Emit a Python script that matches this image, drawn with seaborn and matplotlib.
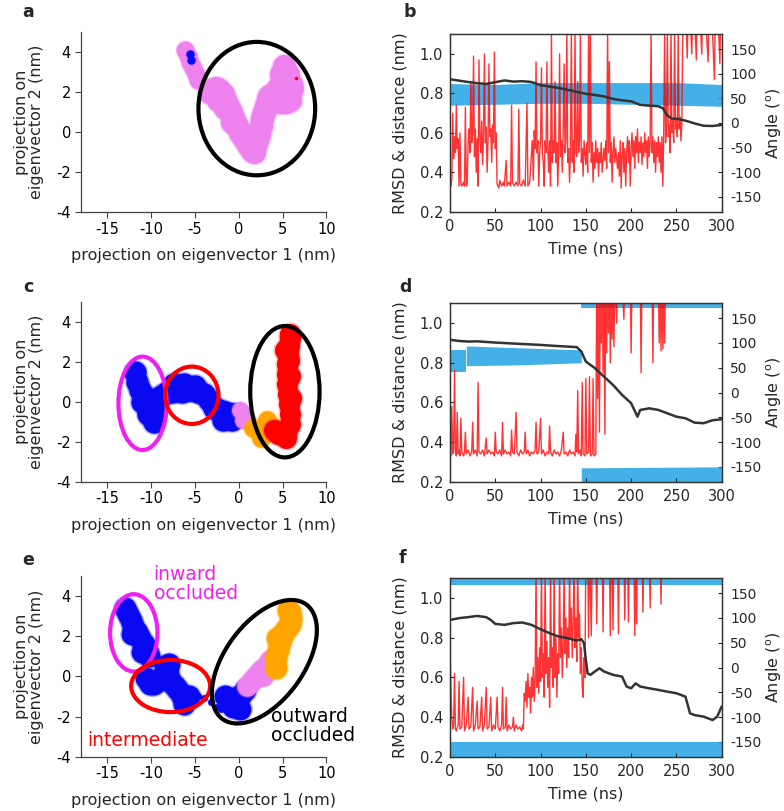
import matplotlib
matplotlib.use("Agg")
import numpy as np
import pandas as pd
import matplotlib.pyplot as plt
import seaborn as sns
from matplotlib.patches import Ellipse
from matplotlib.transforms import Affine2D

# ---------------- PCA projection clouds (anchor points) ----------------
# panel a
a_small_x = [-6.1, -5.8, -5.5, -5.2, -4.9, -4.6]
a_small_y = [4.1, 3.8, 3.5, 3.2, 2.9, 2.6]
a_violet_x = [-3.4, -3.0, -2.6, -2.2, -1.8, -1.5, -1.2, -0.9, -0.6, -0.3, 0.0, 0.3, 0.6, 0.9, 1.2, 1.5,
              1.8, 1.9, 2.1, 2.3, 2.5, 2.7, 2.9, 3.1, 3.3, 3.5, 3.8, 4.3, 4.6, 5.0, 5.4, 5.9, 6.1, 4.5,
              4.9, 5.3, 5.7, 6.0, 4.8, 5.2, 5.6, 5.2, -2.4, -1.6, -0.8]
a_violet_y = [2.0, 2.1, 2.2, 2.1, 1.9, 1.6, 1.3, 1.0, 0.7, 0.4, 0.1, -0.1, -0.3, -0.5, -0.7, -0.9,
              -1.0, -0.7, -0.4, -0.1, 0.3, 0.7, 1.0, 1.3, 1.6, 1.8, 1.8, 1.6, 1.5, 1.5, 1.5, 1.6, 2.2, 2.2,
              2.3, 2.3, 2.3, 2.4, 2.9, 2.9, 2.9, 3.3, 1.6, 1.2, 0.5]
a_blue_x = [-5.6, -5.4]
a_blue_y = [3.9, 3.6]
a_red_x = [6.5]
a_red_y = [2.7]

# panel c
c_blue_x = [-11.8, -11.6, -11.2, -10.8, -10.3, -9.8, -9.5, -9.7, -10.3, -11.0,
            -8.8, -8.2, -7.6, -7.0, -6.4, -5.8, -5.2, -4.6, -4.0, -3.4,
            -7.4, -6.2, -5.0, -2.8, -2.2, -1.6, -1.0, -0.4, -1.8, -0.8]
c_blue_y = [1.5, 1.0, 0.6, 0.3, 0.1, -0.2, -0.6, -1.0, -0.6, 0.0,
            0.3, 0.5, 0.5, 0.6, 0.5, 0.6, 0.6, 0.5, 0.4, 0.1,
            0.9, 0.9, 0.8, -0.3, -0.4, -0.5, -0.6, -0.6, -0.9, -0.9]
c_violet_x = [0.2, 0.6, 0.9, 0.5]
c_violet_y = [-0.4, -0.6, -0.9, -0.9]
c_orange_x = [1.6, 2.2, 2.8, 3.3, 3.8, 3.2, 2.6]
c_orange_y = [-1.3, -1.4, -1.4, -1.5, -1.2, -0.9, -1.8]
c_red_x = [4.0, 4.5, 5.0, 5.5, 5.8, 5.8, 5.7, 5.6, 5.5, 5.5, 5.5, 5.6, 5.7, 5.8, 5.8, 5.7, 5.4, 6.0,
           5.3, 5.9]
c_red_y = [-1.4, -1.6, -1.5, -1.4, -1.1, -0.6, -0.1, 0.4, 0.9, 1.4, 1.9, 2.4, 2.8, 3.2, 3.4, 2.1, -1.8, 0.2,
           2.6, 1.3]

# panel e
e_blue_x = [-12.9, -12.6, -12.3, -12.0, -11.6, -11.2, -10.8, -10.4, -10.2, -12.2, -11.0,
            -10.6, -10.1, -9.6, -9.2, -8.4, -8.0, -7.7, -7.3, -6.9, -6.5, -6.1, -5.7, -7.9, -6.2,
            -1.6, -1.0, -0.4, 0.2, 0.7, 0.1, -0.6]
e_blue_y = [3.4, 3.1, 2.8, 2.5, 2.2, 1.9, 1.6, 1.3, 1.0, 2.1, 1.2,
            -0.1, -0.4, -0.4, -0.2, 0.5, 0.1, -0.3, -0.5, -0.7, -1.0, -1.2, -1.0, 0.6, -1.4,
            -1.0, -1.2, -1.1, -1.0, -0.7, -1.6, -1.5]
e_trail_x = [-4.6, -3.9, -3.2, -2.5, -2.0]
e_trail_y = [-1.0, -1.1, -1.3, -1.5, -1.6]
e_violet_x = [1.0, 1.4, 1.8, 2.2, 2.6, 3.0, 3.3, 3.6, 2.8]
e_violet_y = [-0.5, -0.3, -0.1, 0.1, 0.3, 0.4, 0.6, 0.8, 0.0]
e_orange_x = [4.2, 4.3, 4.5, 4.7, 4.9, 5.2, 5.5, 5.8, 6.0, 5.9, 5.6, 4.4]
e_orange_y = [0.4, 0.9, 1.3, 1.7, 2.0, 2.2, 2.4, 2.6, 2.9, 3.2, 3.3, 1.9]

# state ellipses: (x, y, width, height)
a_ell_black = (2.07, 1.17, 13.3, 6.67)
c_ell_magenta = (-10.95, -0.08, 5.5, 4.67)
c_ell_red = (-5.34, 0.32, 6.08, 2.87)
c_ell_black = (5.27, 0.5, 7.9, 6.57)
e_ell_magenta = (-11.95, 2.17, 5.4, 3.85)
e_ell_red = (-7.75, -0.48, 9.0, 2.6)
e_ell_black_tilted = (2.93, 0.73, 16.17, 8.94, 53.8)  # width/height in x-units, screen angle

# ---------------- time series ----------------
b_black_t = [0, 10, 20, 30, 40, 50, 60, 70, 80, 90, 100, 110, 120, 130, 140, 150, 160, 170, 180, 190, 200,
             210, 220, 230, 235, 240, 245, 250, 260, 270, 280, 290, 300]
b_black_v = [0.872, 0.865, 0.858, 0.852, 0.848, 0.857, 0.866, 0.860, 0.862, 0.858, 0.842, 0.835, 0.828,
             0.818, 0.808, 0.798, 0.792, 0.785, 0.772, 0.765, 0.760, 0.742, 0.738, 0.735, 0.725, 0.688,
             0.672, 0.672, 0.662, 0.648, 0.636, 0.635, 0.640]

d_black_t = [0, 10, 20, 30, 50, 70, 100, 120, 140, 145, 150, 160, 170, 180, 190, 200, 207, 210, 220, 230,
             240, 250, 260, 270, 280, 290, 300]
d_black_v = [0.916, 0.910, 0.907, 0.908, 0.902, 0.897, 0.890, 0.884, 0.879, 0.857, 0.806, 0.773, 0.730,
             0.688, 0.638, 0.596, 0.528, 0.562, 0.570, 0.562, 0.545, 0.528, 0.520, 0.498, 0.495, 0.510, 0.515]

f_black_t = [0, 10, 20, 30, 40, 45, 50, 60, 70, 80, 90, 100, 110, 120, 130, 140, 145, 148, 150, 152, 155,
             160, 165, 170, 180, 190, 195, 200, 205, 210, 220, 230, 240, 250, 260, 265, 270, 280, 290, 295, 300]
f_black_v = [0.890, 0.899, 0.904, 0.910, 0.904, 0.890, 0.870, 0.865, 0.874, 0.877, 0.865, 0.843, 0.823,
             0.806, 0.798, 0.786, 0.793, 0.773, 0.688, 0.620, 0.613, 0.630, 0.646, 0.630, 0.613, 0.604,
             0.554, 0.545, 0.570, 0.554, 0.545, 0.537, 0.528, 0.520, 0.503, 0.419, 0.410, 0.402, 0.385,
             0.402, 0.453]

b_red = [(0, 0.34), (1, 0.33), (2, 0.36), (3, 0.70), (4, 0.47), (5, 0.58), (6, 0.50), (7, 0.74), (8, 0.52),
         (9, 0.57), (10, 0.33), (11, 0.60), (12, 0.34), (13, 0.33), (15, 0.35), (16, 0.33), (17, 0.73),
         (18, 0.33), (19, 0.34), (20, 0.56), (21, 0.62), (22, 0.50), (23, 0.86), (24, 0.55), (25, 0.61),
         (26, 0.99), (27, 0.48), (28, 0.62), (29, 0.40), (30, 0.57), (31, 0.33), (32, 0.97), (33, 0.58),
         (34, 0.50), (35, 0.66), (36, 0.44), (37, 0.60), (38, 1.00), (39, 0.55), (40, 0.63), (41, 0.40),
         (42, 0.57), (43, 0.95), (44, 0.58), (45, 0.62), (46, 0.45), (47, 0.64), (48, 0.55), (49, 1.01),
         (50, 0.52), (51, 0.60), (52, 0.34), (54, 0.32), (55, 0.36), (57, 0.33), (59, 0.35), (60, 0.33),
         (62, 0.46), (63, 0.33), (65, 0.35), (67, 0.33), (68, 0.74), (69, 0.35), (71, 0.33), (73, 0.35),
         (75, 0.33), (76, 0.72), (77, 0.34), (79, 0.33), (81, 0.36), (83, 0.33), (85, 0.75), (86, 0.33),
         (88, 0.35), (90, 0.50), (91, 0.56), (92, 0.36), (93, 0.61), (94, 0.52), (95, 0.96), (96, 0.50),
         (97, 0.56), (98, 0.33), (99, 0.49), (100, 0.56), (101, 0.93), (102, 0.50), (103, 0.45), (104, 0.33),
         (105, 0.56), (106, 0.50), (107, 0.96), (108, 0.52), (109, 0.40), (110, 0.56), (111, 0.33),
         (112, 1.12), (113, 0.45), (114, 0.56), (115, 0.50), (116, 0.86), (117, 0.45), (118, 0.55),
         (119, 0.33), (120, 0.50), (121, 1.00), (122, 0.48), (123, 0.56), (124, 0.40), (125, 0.61),
         (126, 0.95), (127, 0.50), (128, 0.56), (129, 1.12), (130, 0.45), (131, 0.52), (132, 0.35),
         (133, 0.50), (134, 1.12), (135, 0.45), (136, 0.56), (137, 0.40), (138, 1.12), (139, 0.50),
         (140, 0.48), (141, 0.86), (142, 0.50), (143, 0.56), (144, 1.12), (145, 0.45), (146, 0.52),
         (147, 0.38), (148, 0.56), (149, 0.50), (150, 0.44), (151, 0.55), (152, 0.40), (153, 1.12),
         (154, 0.50), (155, 1.12), (156, 0.45), (157, 0.55), (158, 0.35), (159, 0.50), (160, 0.42),
         (161, 0.56), (162, 0.45), (163, 0.52), (164, 0.38), (165, 0.50), (166, 0.45), (167, 0.55),
         (168, 0.40), (170, 0.52), (171, 0.46), (172, 0.56), (173, 0.42), (174, 1.12), (175, 0.50),
         (176, 0.96), (177, 0.45), (178, 0.55), (179, 0.35), (180, 0.50), (181, 0.58), (182, 0.45),
         (183, 0.52), (185, 0.42), (186, 0.50), (187, 0.38), (188, 0.56), (189, 0.32), (190, 0.48),
         (191, 0.55), (192, 0.40), (193, 0.52), (194, 0.33), (195, 0.50), (196, 0.58), (197, 0.45),
         (198, 0.56), (199, 0.33), (200, 0.52), (201, 0.60), (202, 0.48), (203, 0.56), (204, 0.42),
         (205, 0.58), (206, 0.50), (207, 0.62), (208, 0.45), (209, 0.55), (210, 0.50), (211, 0.58),
         (212, 0.44), (213, 0.55), (214, 0.48), (215, 0.60), (216, 0.50), (217, 0.56), (218, 0.42),
         (219, 0.58), (220, 0.48), (221, 0.55), (222, 1.12), (223, 0.50), (224, 0.58), (225, 0.45),
         (226, 0.56), (227, 0.40), (228, 0.55), (229, 0.48), (230, 0.58), (231, 0.45), (232, 0.55),
         (233, 0.40), (234, 0.58), (235, 0.33), (236, 0.60), (237, 1.12), (238, 0.55), (239, 0.62),
         (240, 1.12), (241, 0.58), (242, 0.64), (243, 0.50), (244, 1.12), (245, 0.60), (246, 0.66),
         (247, 0.55), (248, 1.12), (249, 0.62), (250, 0.66), (251, 0.58), (252, 1.12), (253, 0.62),
         (254, 0.68), (255, 0.56), (256, 0.65), (257, 1.12), (258, 1.20), (260, 1.25), (262, 0.98),
         (263, 1.25), (265, 1.20), (267, 1.00), (268, 1.25), (270, 1.20), (272, 0.97), (273, 1.25),
         (276, 1.20), (278, 1.00), (279, 1.25), (282, 1.20), (285, 0.96), (286, 1.25), (289, 1.20),
         (292, 0.87), (293, 1.25), (296, 1.20), (298, 0.95), (299, 1.25), (300, 1.20)]

d_red = [(0, 0.34), (1, 0.33), (2, 0.58), (3, 0.34), (4, 0.36), (5, 0.76), (6, 0.35), (7, 0.33), (8, 0.55),
         (9, 0.34), (10, 0.36), (11, 0.33), (12, 0.52), (13, 0.35), (15, 0.33), (16, 0.35), (17, 0.45),
         (18, 0.34), (20, 0.36), (22, 0.33), (24, 0.35), (25, 0.50), (26, 0.34), (28, 0.36), (30, 0.33),
         (31, 0.70), (32, 0.35), (34, 0.34), (36, 0.36), (38, 0.33), (40, 0.42), (41, 0.34), (43, 0.36),
         (45, 0.34), (47, 0.35), (49, 0.33), (50, 0.45), (51, 0.35), (53, 0.34), (55, 0.36), (57, 0.33),
         (58, 0.50), (59, 0.34), (61, 0.36), (63, 0.34), (65, 0.35), (67, 0.33), (68, 0.46), (69, 0.35),
         (71, 0.34), (73, 0.55), (74, 0.35), (76, 0.33), (78, 0.36), (80, 0.34), (82, 0.35), (83, 0.45),
         (84, 0.34), (86, 0.36), (88, 0.33), (90, 0.35), (92, 0.34), (94, 0.36), (95, 0.50), (96, 0.34),
         (98, 0.35), (100, 0.52), (101, 0.34), (103, 0.36), (105, 0.33), (107, 0.35), (109, 0.34),
         (110, 0.48), (111, 0.35), (113, 0.33), (115, 0.36), (117, 0.34), (119, 0.35), (121, 0.33),
         (123, 0.36), (125, 0.45), (126, 0.34), (128, 0.35), (130, 0.33), (132, 0.36), (134, 0.34),
         (136, 0.35), (138, 0.33), (139, 0.44), (140, 0.35), (141, 0.66), (142, 0.34), (144, 0.36),
         (145, 0.33), (146, 0.70), (147, 0.34), (149, 0.33), (150, 0.72), (151, 0.34), (153, 0.35),
         (154, 0.73), (155, 0.33), (157, 0.34), (158, 0.72), (159, 0.33), (161, 0.34), (162, 1.25),
         (163, 0.62), (164, 1.25), (165, 0.45), (166, 1.25), (167, 0.90), (168, 1.25), (169, 0.75),
         (170, 1.25), (171, 0.44), (172, 1.25), (173, 0.85), (174, 1.25), (175, 0.95), (176, 1.25),
         (177, 0.80), (178, 1.25), (179, 0.92), (180, 1.25), (181, 0.88), (182, 1.25), (184, 1.00),
         (185, 1.25), (190, 1.25), (192, 1.02), (193, 1.25), (199, 1.25), (200, 0.85), (201, 1.25),
         (210, 1.25), (211, 0.75), (212, 1.25), (223, 1.25), (224, 0.80), (225, 1.25), (230, 1.25),
         (231, 0.90), (232, 1.25), (233, 0.86), (234, 1.25), (235, 0.87), (236, 1.25), (237, 0.90),
         (238, 1.25), (300, 1.25)]

f_red = [(0, 0.77), (1, 0.55), (2, 0.40), (3, 0.34), (4, 0.36), (5, 0.62), (6, 0.34), (7, 0.33), (9, 0.36),
         (10, 0.58), (11, 0.34), (13, 0.35), (15, 0.60), (16, 0.33), (18, 0.36), (20, 0.50), (21, 0.34),
         (23, 0.35), (25, 0.55), (26, 0.33), (28, 0.36), (30, 0.48), (31, 0.34), (33, 0.35), (35, 0.50),
         (36, 0.33), (38, 0.36), (40, 0.55), (41, 0.34), (43, 0.35), (45, 0.50), (46, 0.33), (48, 0.36),
         (50, 0.34), (52, 0.50), (53, 0.35), (55, 0.33), (57, 0.36), (58, 0.55), (59, 0.34), (61, 0.35),
         (62, 0.50), (63, 0.33), (65, 0.36), (67, 0.34), (69, 0.35), (70, 0.40), (71, 0.33), (73, 0.36),
         (75, 0.34), (77, 0.35), (79, 0.33), (80, 0.36), (81, 0.34), (82, 0.52), (83, 0.48), (84, 0.58),
         (85, 0.45), (86, 0.62), (87, 0.50), (88, 0.55), (89, 0.42), (90, 0.60), (91, 0.50), (92, 0.65),
         (93, 0.48), (94, 0.58), (95, 1.15), (96, 0.55), (97, 0.70), (98, 0.52), (99, 0.75), (100, 0.58),
         (101, 1.15), (102, 0.60), (103, 0.72), (104, 0.50), (105, 1.15), (106, 0.62), (107, 0.78),
         (108, 0.55), (109, 0.70), (110, 0.45), (111, 1.15), (112, 0.65), (113, 0.75), (114, 0.55),
         (115, 1.15), (116, 0.60), (117, 0.80), (118, 0.50), (119, 0.72), (120, 0.62), (121, 1.15),
         (122, 0.70), (123, 0.85), (124, 0.60), (125, 0.78), (126, 1.15), (127, 0.72), (128, 0.90),
         (129, 0.65), (130, 0.85), (131, 0.70), (132, 1.15), (133, 0.80), (134, 0.95), (135, 0.70),
         (136, 0.88), (137, 1.15), (138, 0.75), (139, 0.90), (140, 0.68), (141, 1.15), (142, 0.80),
         (143, 0.92), (144, 0.62), (145, 0.75), (146, 0.55), (147, 0.50), (148, 0.70), (149, 0.60),
         (150, 1.25), (152, 1.25), (153, 0.80), (154, 1.25), (156, 0.81), (157, 1.25), (161, 1.25),
         (162, 0.87), (163, 1.25), (168, 1.25), (169, 0.83), (170, 1.25), (176, 1.25), (177, 0.81),
         (178, 1.25), (179, 1.25), (180, 0.84), (181, 1.25), (185, 1.25), (186, 0.82), (187, 1.25),
         (192, 1.25), (193, 0.89), (194, 1.25), (196, 1.25), (197, 0.88), (198, 1.25), (203, 1.25),
         (204, 0.81), (205, 1.25), (206, 0.87), (207, 1.25), (212, 1.25), (213, 0.93), (214, 1.25),
         (220, 1.25), (221, 0.95), (222, 1.25), (232, 1.25), (233, 0.97), (234, 1.25), (300, 1.25)]

# angle bands (degrees): time, low, high
b_angle_t = [0, 50, 100, 150, 200, 250, 300]
b_angle_lo = [36, 38, 40, 40, 38, 36, 34]
b_angle_hi = [80, 78, 82, 82, 82, 82, 78]

d_angle1_t = [0, 18]
d_angle1_lo = [42, 42]
d_angle1_hi = [86, 86]
d_angle2_t = [18, 80, 145]
d_angle2_lo = [54, 56, 60]
d_angle2_hi = [94, 90, 86]
d_angle3_t = [145, 300]
d_angle3_lo = [-180, -180]
d_angle3_hi = [-152, -150]
d_angle4_t = [145, 300]
d_angle4_lo = [170, 170]
d_angle4_hi = [180, 180]

f_angle1_t = [0, 300]
f_angle1_lo = [-180, -180]
f_angle1_hi = [-150, -150]
f_angle2_t = [0, 300]
f_angle2_lo = [167, 167]
f_angle2_hi = [180, 180]

# ---------------- styling ----------------
sns.set_theme(style="ticks")
plt.rcParams["font.family"] = ["DejaVu Sans"]
plt.rcParams["axes.unicode_minus"] = False

BLUE = "#0a0af0"
VIOLET = "#ee82ee"
ORANGE = "#ffa500"
RED = "#ff0000"
MAGENTA = "#f020f0"
CYAN = "#22a2e4"
DARK = "#333333"

fig = plt.figure(figsize=(7.84, 8.11), dpi=100)
W, H = 784, 811


def cloud(ax, xs, ys, color, s):
    sns.scatterplot(x=xs, y=ys, s=s * 1.3, color=color, alpha=0.25, linewidth=0, ax=ax, legend=False)
    sns.scatterplot(x=xs, y=ys, s=s, color=color, linewidth=0, ax=ax, legend=False)


def ellipse(ax, params, color):
    x, y, w, h = params
    ax.add_patch(Ellipse((x, y), w, h, fill=False, edgecolor=color, lw=3, zorder=5))


def pca_axes(rect):
    ax = fig.add_axes(rect)
    ax.set_xlim(-18, 10)
    ax.set_ylim(-4, 5)
    ax.set_xticks([-15, -10, -5, 0, 5, 10])
    ax.set_yticks([-4, -2, 0, 2, 4])
    sns.despine(ax=ax)
    for s in ["left", "bottom"]:
        ax.spines[s].set_color("#444444")
        ax.spines[s].set_linewidth(0.9)
    ax.tick_params(direction="out", length=4, width=0.8, labelsize=10.5, colors="#444444",
                   labelcolor="black", pad=3)
    ax.set_xlabel("projection on eigenvector 1 (nm)", fontsize=11.5, labelpad=8)
    ax.set_ylabel("projection on\neigenvector 2 (nm)", fontsize=11.5, labelpad=9, linespacing=1.0)
    return ax


def time_axes(rect, black_t, black_v, red, bands):
    ax = fig.add_axes(rect)
    ax2 = ax.twinx()
    for t, lo, hi in bands:
        ax2.fill_between(t, lo, hi, color=CYAN, alpha=0.85, linewidth=0)
    ax2.set_ylim(-180, 180)
    ax2.set_yticks([-150, -100, -50, 0, 50, 100, 150])
    ax2.set_ylabel("Angle ($^{\\mathrm{o}}$)", fontsize=11.5, labelpad=2)
    ax.set_zorder(ax2.get_zorder() + 1)
    ax.patch.set_visible(False)
    rd = pd.DataFrame(red, columns=["t", "v"])
    sns.lineplot(data=rd, x="t", y="v", estimator=None, sort=False, color=RED, lw=1.0, alpha=0.8, ax=ax)
    sns.lineplot(x=black_t, y=black_v, estimator=None, sort=False, color=DARK, lw=1.8, ax=ax)
    ax.set_xlim(0, 300)
    ax.set_ylim(0.2, 1.1)
    ax.set_xticks([0, 50, 100, 150, 200, 250, 300])
    ax.set_yticks([0.2, 0.4, 0.6, 0.8, 1.0])
    ax.set_yticklabels(["0.2", "0.4", "0.6", "0.8", "1.0"])
    ax.set_xlabel("Time (ns)", fontsize=11.5, labelpad=6)
    ax.set_ylabel("RMSD & distance (nm)", fontsize=11.5, labelpad=9)
    for a in (ax, ax2):
        for s in a.spines.values():
            s.set_color("#333333")
            s.set_linewidth(0.9)
    ax.tick_params(direction="in", length=3, width=0.8, labelsize=10.5, top=False, pad=5)
    ax2.tick_params(direction="in", length=3, width=0.8, labelsize=10, pad=6)
    return ax


# panel a
ax_a = pca_axes([80.7 / W, (H - 212) / H, 245.7 / W, 180 / H])
cloud(ax_a, a_small_x, a_small_y, VIOLET, 170)
cloud(ax_a, a_violet_x, a_violet_y, VIOLET, 280)
cloud(ax_a, a_blue_x, a_blue_y, BLUE, 35)
cloud(ax_a, a_red_x, a_red_y, RED, 6)
ellipse(ax_a, a_ell_black, "black")

# panel c
ax_c = pca_axes([80.7 / W, (H - 481.7) / H, 245.7 / W, 180 / H])
cloud(ax_c, c_blue_x, c_blue_y, BLUE, 260)
cloud(ax_c, c_violet_x, c_violet_y, VIOLET, 150)
cloud(ax_c, c_orange_x, c_orange_y, ORANGE, 180)
cloud(ax_c, c_red_x, c_red_y, RED, 230)
ellipse(ax_c, c_ell_magenta, MAGENTA)
ellipse(ax_c, c_ell_red, RED)
ellipse(ax_c, c_ell_black, "black")

# panel e
ax_e = pca_axes([80.7 / W, (H - 756.7) / H, 245.7 / W, 180.7 / H])
cloud(ax_e, e_trail_x, e_trail_y, BLUE, 25)
cloud(ax_e, e_blue_x, e_blue_y, BLUE, 250)
cloud(ax_e, e_violet_x, e_violet_y, VIOLET, 220)
cloud(ax_e, e_orange_x, e_orange_y, ORANGE, 250)
ellipse(ax_e, e_ell_magenta, MAGENTA)
ellipse(ax_e, e_ell_red, RED)
# tilted ellipse drawn in a space where y is stretched to screen proportions
k = (180.7 / 9) / (245.7 / 28)
cx, cy, ew, eh, ang = e_ell_black_tilted
ax_e.add_patch(Ellipse((cx, cy * k), ew, eh, angle=ang, fill=False, edgecolor="black", lw=3, zorder=5,
                       transform=Affine2D().scale(1, 1 / k) + ax_e.transData))
ax_e.text(-9.7, 5.55, "inward\noccluded", color=MAGENTA, fontsize=13.5, ha="left", va="top",
          linespacing=1.0, clip_on=False)
ax_e.text(-17.2, -3.2, "intermediate", color=RED, fontsize=13.5, ha="left", va="center", clip_on=False)
ax_e.text(3.7, -1.5, "outward\noccluded", color="black", fontsize=13.5, ha="left", va="top",
          linespacing=1.0, clip_on=False)

# panel b
time_axes([450 / W, (H - 211.7) / H, 271.7 / W, 177.4 / H], b_black_t, b_black_v, b_red,
          [(b_angle_t, b_angle_lo, b_angle_hi)])
# panel d
time_axes([450 / W, (H - 481.7) / H, 271.7 / W, 178.4 / H], d_black_t, d_black_v, d_red,
          [(d_angle1_t, d_angle1_lo, d_angle1_hi), (d_angle2_t, d_angle2_lo, d_angle2_hi),
           (d_angle3_t, d_angle3_lo, d_angle3_hi), (d_angle4_t, d_angle4_lo, d_angle4_hi)])
# panel f
time_axes([450 / W, (H - 756.7) / H, 271.7 / W, 178.4 / H], f_black_t, f_black_v, f_red,
          [(f_angle1_t, f_angle1_lo, f_angle1_hi), (f_angle2_t, f_angle2_lo, f_angle2_hi)])

# panel letters
for letter, (px, py) in zip("abcdef", [(28, 12), (410, 12), (28, 287), (405, 287), (28, 560), (402, 558)]):
    fig.text(px / W, 1 - py / H, letter, fontsize=12.5, fontweight="bold", ha="center", va="center")

fig.savefig("out.png", dpi=100, facecolor="white")
